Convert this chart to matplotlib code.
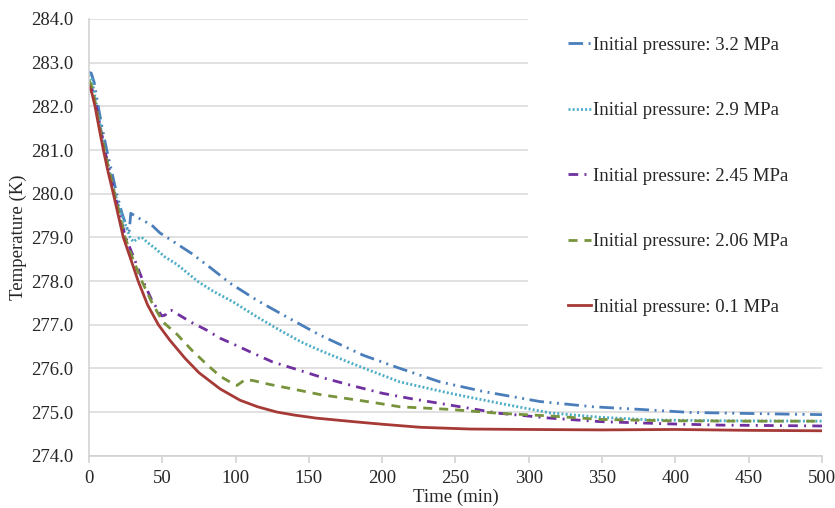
import matplotlib
matplotlib.use('Agg')
import matplotlib.pyplot as plt
from matplotlib.patches import Rectangle

plt.rcParams['font.family'] = ['Liberation Serif', 'DejaVu Serif']
plt.rcParams['lines.scale_dashes'] = False

# time (min) / temperature (K)
t_32 = [0, 1.5, 3.5, 6.3, 9, 12.1, 15.5, 18.9, 22.5, 26.8, 27.3, 28.5, 35, 42.8, 48.4, 60, 70, 83, 96.2,
        115, 139, 157.6, 187, 212, 239.4, 269, 307.6, 343.8, 375.8, 410, 444, 478, 500]
T_32 = [282.78, 282.76, 282.55, 282.0, 281.5, 281.0, 280.5, 280.0, 279.55, 279.13, 279.1, 279.55, 279.42,
        279.28, 279.1, 278.85, 278.63, 278.3, 277.95, 277.55, 277.1, 276.76, 276.3, 276.0, 275.69, 275.47,
        275.24, 275.12, 275.06, 274.99, 274.97, 274.95, 274.94]

t_29 = [0, 2, 5.3, 8, 10.9, 14, 17.7, 22.5, 28, 30.2, 33, 36, 40, 45, 51.8, 60, 74.6, 85, 98.4, 115, 130.3,
        145, 157.6, 175, 191.7, 212, 246, 280, 314.5, 348.6, 382.7, 430, 500]
T_29 = [282.72, 282.6, 282.0, 281.5, 281.0, 280.5, 280.0, 279.5, 279.0, 278.9, 278.97, 279.0, 278.88, 278.75,
        278.55, 278.38, 277.98, 277.76, 277.52, 277.17, 276.87, 276.6, 276.41, 276.17, 275.95, 275.69,
        275.43, 275.2, 274.98, 274.88, 274.82, 274.8, 274.79]

t_245 = [0, 2, 5, 7.8, 10.7, 14, 17.5, 21, 25, 31, 36.8, 43, 49.6, 52, 54, 56, 60, 70, 80, 89.4, 96.2, 109.8,
         125, 144, 160, 180, 200, 219, 246, 280, 314.5, 348.6, 394, 430, 500]
T_245 = [282.55, 282.4, 282.0, 281.5, 281.0, 280.5, 280.0, 279.5, 279.0, 278.5, 278.0, 277.55, 277.2, 277.22,
         277.32, 277.33, 277.25, 277.05, 276.88, 276.69, 276.59, 276.38, 276.15, 275.95, 275.78, 275.6,
         275.43, 275.31, 275.16, 274.97, 274.86, 274.78, 274.73, 274.7, 274.68]

t_206 = [0, 2, 4.8, 7.5, 10.6, 14, 17.4, 21, 24.6, 30, 36, 43, 50.5, 60, 70, 80, 89.4, 99.6, 101, 106.4, 112,
         123.5, 140, 157.6, 191.7, 212, 246, 280, 314.5, 348.6, 394, 450, 500]
T_206 = [282.6, 282.45, 282.0, 281.5, 281.0, 280.5, 280.0, 279.5, 279.0, 278.5, 278.0, 277.5, 277.06, 276.78,
         276.42, 276.1, 275.82, 275.62, 275.61, 275.74, 275.72, 275.63, 275.52, 275.4, 275.23, 275.12,
         275.06, 274.97, 274.91, 274.83, 274.8, 274.79, 274.79]

t_01 = [0, 2, 4.1, 7, 9.8, 13, 16.6, 20, 23.4, 29, 33.5, 40, 47.3, 55, 65.5, 75, 89.4, 103, 115, 128, 140, 155,
        180, 200, 226, 260, 300, 350, 400, 450, 500]
T_01 = [282.47, 282.3, 282.0, 281.48, 281.0, 280.5, 280.0, 279.5, 279.0, 278.45, 278.0, 277.45, 277.0, 276.65,
        276.23, 275.9, 275.53, 275.27, 275.12, 275.0, 274.93, 274.86, 274.78, 274.72, 274.65, 274.61, 274.6,
        274.59, 274.6, 274.58, 274.57]

labels = ['Initial pressure: 3.2 MPa', 'Initial pressure: 2.9 MPa', 'Initial pressure: 2.45 MPa',
          'Initial pressure: 2.06 MPa', 'Initial pressure: 0.1 MPa']
colors = ['#4A7EBB', '#4BACC6', '#7030A0', '#77933C', '#A63A36']

fig = plt.figure(figsize=(8.35, 5.08), dpi=100)
ax = fig.add_axes([0.1066, 0.103, 0.8778, 0.8596])

ax.plot(t_32, T_32, color=colors[0], lw=2, dashes=[10.5, 4, 1.4, 4, 1.4, 4], label=labels[0])
ax.plot(t_29, T_29, color=colors[1], lw=2, dashes=[1.4, 1.6], label=labels[1])
ax.plot(t_245, T_245, color=colors[2], lw=2, dashes=[7, 4.5, 1.4, 4.5], label=labels[2])
ax.plot(t_206, T_206, color=colors[3], lw=2, dashes=[6.5, 5], label=labels[3])
ax.plot(t_01, T_01, color=colors[4], lw=2, label=labels[4])

ax.set_xlim(0, 500)
ax.set_ylim(274, 284)
ax.set_xticks(range(0, 501, 50))
ax.set_yticks(range(274, 285))
ax.yaxis.set_major_formatter(matplotlib.ticker.FormatStrFormatter('%.1f'))
ax.grid(axis='y', color='#D9D9D9', lw=1.1)
ax.set_axisbelow(True)
for s in ['top', 'right']:
    ax.spines[s].set_visible(False)
for s in ['left', 'bottom']:
    ax.spines[s].set_color('#D0D0D0')
    ax.spines[s].set_linewidth(1.1)
ax.tick_params(axis='y', length=0, pad=11, labelsize=13.5, colors='#262626')
ax.tick_params(axis='x', length=5, width=1.1, color='#D0D0D0', pad=5, labelsize=13.5, labelcolor='#262626')

ax.set_xlabel('Time (min)', fontsize=13.5, color='#262626')
ax.set_ylabel('Temperature (K)', fontsize=13.5, color='#262626')
ax.xaxis.set_label_coords(0.5, -0.076)
ax.yaxis.set_label_coords(-0.085, 0.5)

# white area behind the legend
ax.add_patch(Rectangle((0.599, 0.265), 0.401, 0.74, transform=ax.transAxes,
                       facecolor='white', edgecolor='none', zorder=1.5, clip_on=False))

leg = ax.legend(loc='upper left', bbox_to_anchor=(0.6535, 0.96), frameon=False, fontsize=13.5,
                handlelength=1.2, handletextpad=0.15, labelspacing=2.58, borderpad=0,
                borderaxespad=0)
for txt in leg.get_texts():
    txt.set_color('#262626')

fig.savefig('out.png', dpi=100)
